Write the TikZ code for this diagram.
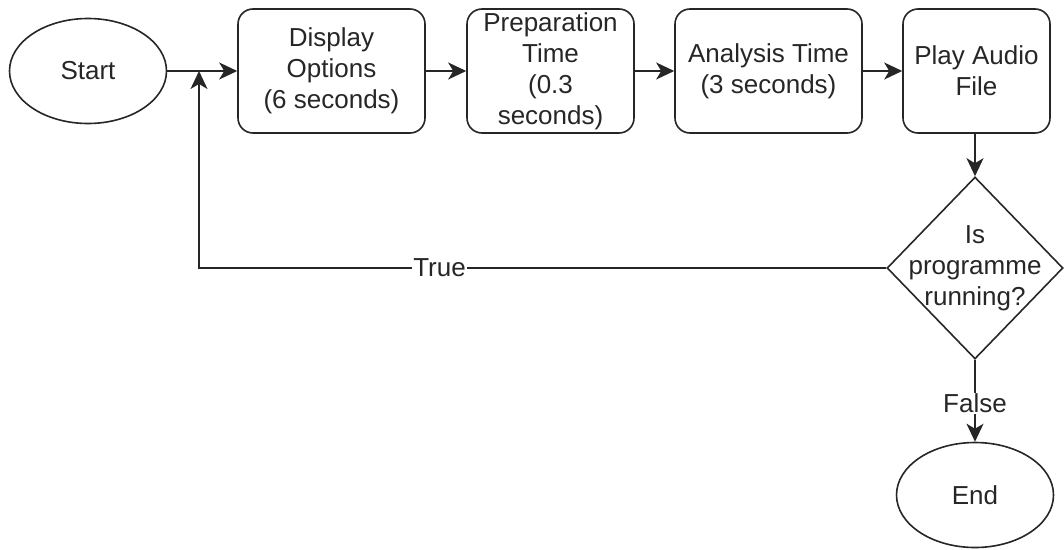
\documentclass[tikz,border=0pt]{standalone}
\usepackage{fontspec}
\setmainfont{Liberation Sans}
\usetikzlibrary{shapes.geometric,arrows.meta}

\tikzset{
  terminal/.style={ellipse, draw, line width=1.6pt, minimum width=157, minimum height=105, inner sep=0},
  process/.style={draw, line width=1.6pt, rounded corners=15, minimum height=124, inner sep=0, align=center},
  decision/.style={diamond, draw, line width=1.6pt, minimum width=176, minimum height=182, inner sep=0},
  flow/.style={line width=1.6pt, -{Stealth[length=18pt,width=17pt,inset=5pt]}},
  tag/.style={fill=white, inner sep=1pt}
}

\begin{document}
\begin{tikzpicture}[x=1pt, y=-1pt, font=\fontsize{26}{31}\selectfont, color=black!85]
	\useasboundingbox (0,0) rectangle (1064,549);

	% top row
	\node[terminal] (start) at (88,71) {Start};
	\node[process, minimum width=187] (disp) at (331.5,71) {Display\\Options\\(6 seconds)};
	\node[process, minimum width=167] (prep) at (550.5,71) {Preparation\\Time\\(0.3\\seconds)};
	\node[process, minimum width=187] (ana) at (768.5,71) {Analysis Time\\(3 seconds)};
	\node[process, minimum width=147] (play) at (976.5,71) {Play Audio\\File};

	% check and end
	\node[decision, label={[align=center]center:Is\\programme\\running?}] (run) at (975,268) {};
	\node[terminal] (end) at (975,495) {End};

	% loop comes back in here
	\coordinate (join) at (199,71);

	\draw[flow] (start) -- (disp);
	\draw[flow] (disp) -- (prep);
	\draw[flow] (prep) -- (ana);
	\draw[flow] (ana) -- (play);
	\draw[flow] (play.south -| run.north) -- (run.north);
	\draw[flow] (run.west) -| node[tag, pos=0.325] {True} (join);
	\draw[flow] (run.south) -- node[tag, pos=0.53] {False} (end.north);
\end{tikzpicture}
\end{document}
